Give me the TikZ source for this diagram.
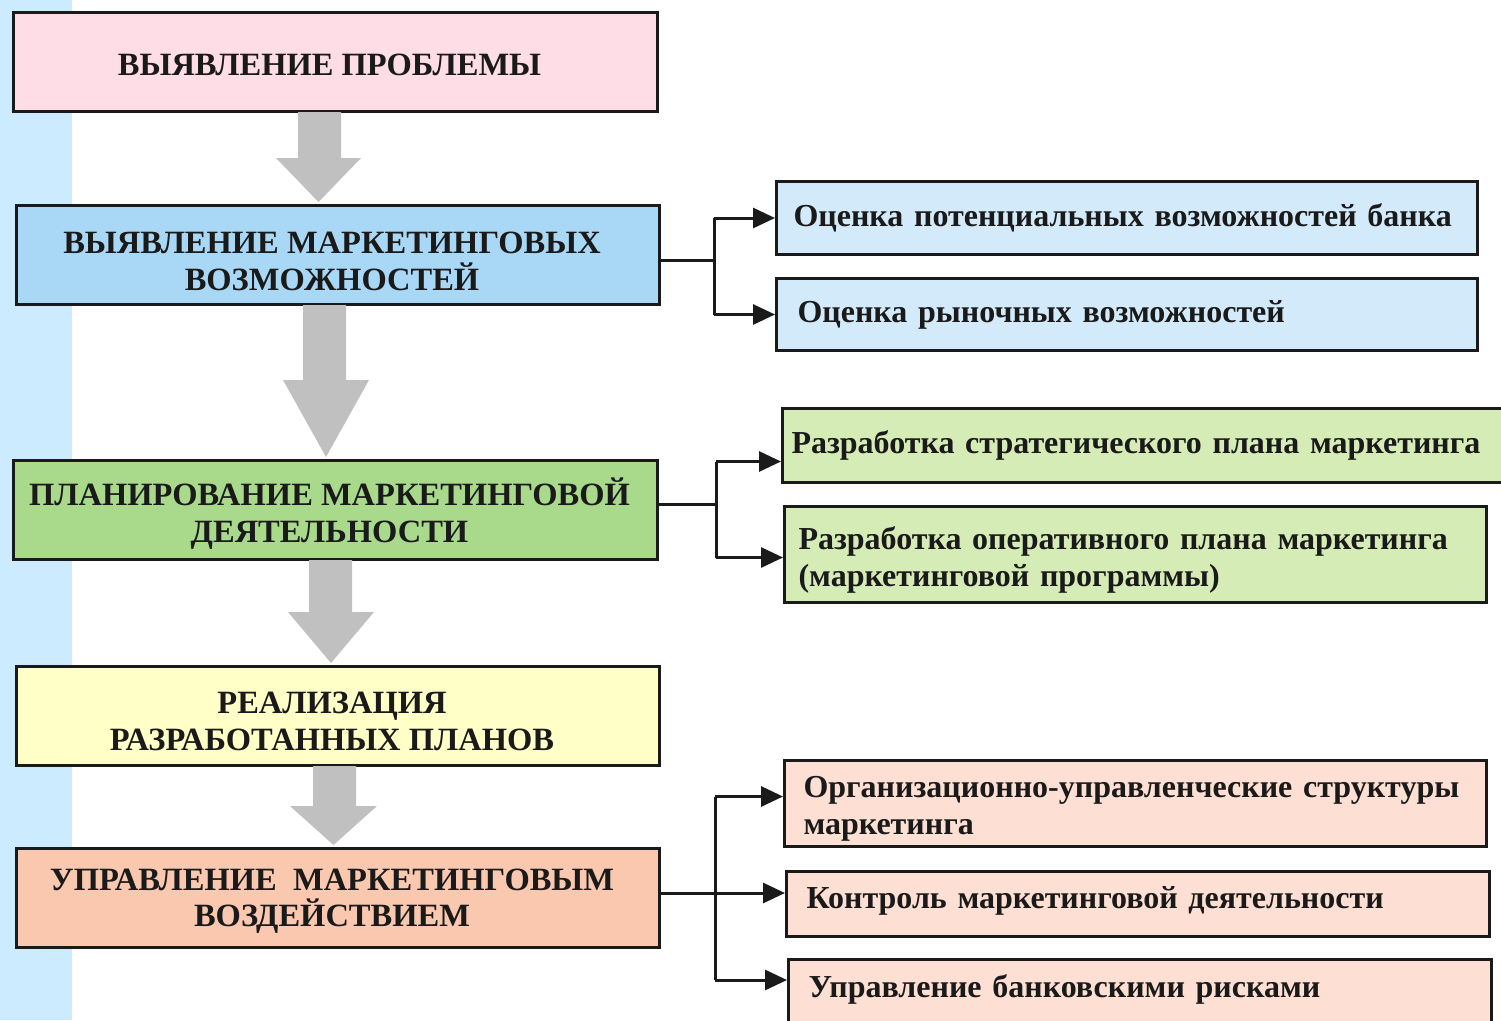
\documentclass[tikz,border=0pt]{standalone}
\usepackage{fontspec}
\setmainfont{Liberation Serif}
\usetikzlibrary{arrows.meta,calc}
\definecolor{strip}{HTML}{CCEBFF}
\definecolor{cpink}{HTML}{FFDDE6}
\definecolor{cblue}{HTML}{A8D8F6}
\definecolor{cgreen}{HTML}{A9D98B}
\definecolor{cyellow}{HTML}{FFFFC8}
\definecolor{csalmon}{HTML}{FAC7AF}
\definecolor{rblue}{HTML}{D3EAFA}
\definecolor{rgreen}{HTML}{D6ECB6}
\definecolor{rsalmon}{HTML}{FDE0D3}
\definecolor{garrow}{HTML}{C0C0C0}
\definecolor{ink}{HTML}{1A1A1A}
\newcommand{\lsh}{\hspace*{-12pt}}
\tikzset{
  mainbox/.style={draw=ink, line width=3pt, anchor=north west, minimum height=99pt,
    inner sep=0pt, align=center, font=\fontsize{32.5}{37}\selectfont\bfseries, text=ink},
  sidebox/.style={draw=ink, line width=3pt, anchor=north west, inner xsep=17pt, inner ysep=0pt,
    align=left, font=\fontsize{32}{37}\selectfont\bfseries, text=ink},
  conn/.style={draw=ink, line width=3pt},
  carrow/.style={conn, -{Triangle[length=22pt,width=20pt]}},
  blockarrow/.style={fill=garrow, draw=none}
}
\begin{document}
\begin{tikzpicture}[x=1pt,y=-1pt]
\useasboundingbox (0,0) rectangle (1501,1020);
\clip (0,0) rectangle (1501,1020);
\fill[white] (0,0) rectangle (1501,1020);
\fill[strip] (0,0) rectangle (72,1020);

% main column
\node[mainbox, fill=cpink, minimum width=644pt, text height=26pt, text depth=0pt] (b1) at (12,11) {\lsh ВЫЯВЛЕНИЕ ПРОБЛЕМЫ};
\node[mainbox, fill=cblue, minimum width=643pt, text height=71pt, text depth=0pt] (b2) at (15,204) {\lsh ВЫЯВЛЕНИЕ МАРКЕТИНГОВЫХ\\\lsh ВОЗМОЖНОСТЕЙ};
\node[mainbox, fill=cgreen, minimum width=644pt, text height=65pt, text depth=0pt] (b3) at (12,459) {\lsh ПЛАНИРОВАНИЕ МАРКЕТИНГОВОЙ\\\lsh ДЕЯТЕЛЬНОСТИ};
\node[mainbox, fill=cyellow, minimum width=643pt, text height=69pt, text depth=0pt] (b4) at (15,665) {\lsh РЕАЛИЗАЦИЯ\\\lsh РАЗРАБОТАННЫХ ПЛАНОВ};
\node[mainbox, fill=csalmon, minimum width=643pt, text height=57pt, text depth=0pt] (b5) at (15,847) {\lsh УПРАВЛЕНИЕ\ \ МАРКЕТИНГОВЫМ\\[-1pt]\lsh ВОЗДЕЙСТВИЕМ};

% gray block arrows
\fill[blockarrow] (298,112) -- (341,112) -- (341,158) -- (361,158) -- (318.5,202) -- (276,158) -- (298,158) -- cycle;
\fill[blockarrow] (303,305) -- (346,305) -- (346,380) -- (369,380) -- (326,457) -- (283,380) -- (303,380) -- cycle;
\fill[blockarrow] (309,560) -- (352,560) -- (352,612) -- (374,612) -- (331,663) -- (288,612) -- (309,612) -- cycle;
\fill[blockarrow] (313,766) -- (356,766) -- (356,806) -- (377,806) -- (333.5,845) -- (290,806) -- (313,806) -- cycle;

% side boxes
\node[sidebox, fill=rblue, minimum width=701pt, minimum height=73pt, text width=667pt] (r1) at (775,180) {Оценка потенциальных возможностей банка};
\node[sidebox, fill=rblue, minimum width=701pt, minimum height=72pt, text width=659pt, inner xsep=21pt] (r2) at (775,277) {Оценка рыночных возможностей};
\node[sidebox, fill=rgreen, minimum width=730pt, minimum height=74pt, text width=712pt, inner xsep=9pt] (r3) at (781,407) {Разработка стратегического плана маркетинга};
\node[sidebox, fill=rgreen, minimum width=702pt, minimum height=96pt, text width=674pt, inner xsep=14pt, text height=23pt, text depth=34pt] (r4) at (783,505) {Разработка оперативного плана маркетинга\\(маркетинговой программы)};
\node[sidebox, fill=rsalmon, minimum width=702pt, minimum height=86pt, text width=664pt, inner xsep=19pt, text height=23pt, text depth=36pt] (r5) at (783,759) {Организационно-управленческие структуры\\маркетинга};
\node[sidebox, fill=rsalmon, minimum width=703pt, minimum height=65pt, text width=663pt, inner xsep=20pt, text height=23pt, text depth=15pt] (r6) at (785,870) {Контроль маркетинговой деятельности};
\node[sidebox, fill=rsalmon, minimum width=703pt, text height=38pt, text depth=52pt, text width=663pt, inner xsep=20pt] (r7) at (787,958) {Управление банковскими рисками};

% connectors: group 1
\coordinate (j1) at ($(b2.east)+(53,5)$);
\draw[conn] ($(b2.east)+(0,5)$) -- (j1);
\draw[conn] (j1 |- r1.west) -- (j1 |- r2.west);
\draw[carrow] (j1 |- r1.west) -- (r1.west);
\draw[carrow] (j1 |- r2.west) -- (r2.west);

% connectors: group 2
\coordinate (j2) at ($(b3.east)+(57,-6)$);
\coordinate (t3) at ($(r3.west)+(0,16)$);
\coordinate (t4) at ($(r4.west)+(0,3)$);
\draw[conn] ($(b3.east)+(0,-6)$) -- (j2);
\draw[conn] (j2 |- t3) -- (j2 |- t4);
\draw[carrow] (j2 |- t3) -- (t3);
\draw[carrow] (j2 |- t4) -- (t4);

% connectors: group 3
\coordinate (j3) at ($(b5.east)+(54,-5)$);
\coordinate (t5) at ($(r5.west)+(0,-7)$);
\coordinate (t6) at ($(r6.west)+(0,-11)$);
\coordinate (t7) at (r7.north west |- 0,980);
\draw[conn] ($(b5.east)+(0,-5)$) -- (j3);
\draw[conn] (j3 |- t5) -- (j3 |- t7);
\draw[carrow] (j3 |- t5) -- (t5);
\draw[carrow] (j3 |- t6) -- (t6);
\draw[carrow] (j3 |- t7) -- (t7);
\end{tikzpicture}
\end{document}
